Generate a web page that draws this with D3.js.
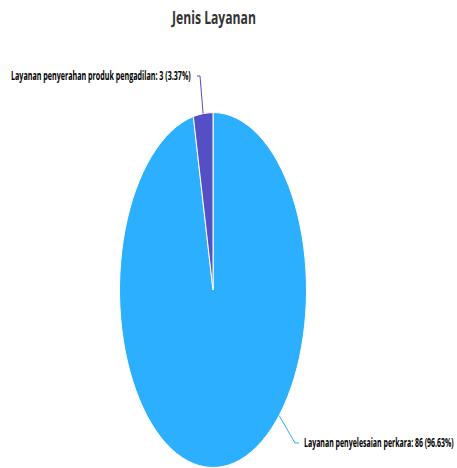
<!DOCTYPE html>
<html>
<head>
<meta charset="utf-8">
<script src="https://cdn.jsdelivr.net/npm/d3@7/dist/d3.min.js"></script>
<style>
  html, body { margin: 0; padding: 0; background: #fff; }
  svg { display: block; }
  text { font-family: "Open Sans", "Liberation Sans", sans-serif; }
</style>
</head>
<body>
<svg id="chart" width="457" height="468"></svg>
<script>
// ---- data ----
const title = "Jenis Layanan";
const categories = ["Layanan penyelesaian perkara", "Layanan penyerahan produk pengadilan"];
const values = [86, 3];
const colors = ["#2caffe", "#544fc5"];

// ---- layout ----
const cx = 213, cy = 290, rx = 93.5, ry = 177.5;
const R = 100;

const svg = d3.select("#chart");

const total = d3.sum(values);
const pie = d3.pie().sort(null).startAngle(0).endAngle(2 * Math.PI)(values);
const arc = d3.arc().innerRadius(0).outerRadius(R);

const g = svg.append("g")
  .attr("transform", `translate(${cx},${cy}) scale(${rx / R},${ry / R})`);

g.selectAll("path")
  .data(pie)
  .join("path")
  .attr("d", arc)
  .attr("fill", (d, i) => colors[i])
  .attr("stroke", "#ffffff")
  .attr("stroke-width", 1)
  .attr("vector-effect", "non-scaling-stroke");

// condensed text helper: scales text horizontally to a target width
function condensedText(str, x, y, width, size, weight, fill, anchor) {
  const t = svg.append("text")
    .attr("font-size", size)
    .attr("font-weight", weight)
    .attr("fill", fill)
    .attr("text-anchor", anchor)
    .text(str);
  const natural = t.node().getComputedTextLength();
  const sx = width / natural;
  t.attr("transform", `translate(${x},${y}) scale(${sx},1)`);
  return t;
}

// title
condensedText(title, 214, 24, 84, 17, 700, "#333333", "middle");

// data labels (layout for each label)
const labelLayout = [
  { anchorAngle: 135, bendX: 295, bendY: 443, endX: 299, textX: 304, textY: 447, len: 150 },
  { anchorAngle: null, bendX: 200, bendY: 76, endX: 197, textX: 11, textY: 80, len: 180 }
];

pie.forEach((d, i) => {
  const L = labelLayout[i];
  const midDeg = (d.startAngle + d.endAngle) / 2 * 180 / Math.PI;
  const aDeg = L.anchorAngle == null ? midDeg : L.anchorAngle;
  const a = aDeg * Math.PI / 180;
  const px = cx + rx * Math.sin(a);
  const py = cy - ry * Math.cos(a);
  svg.append("path")
    .attr("d", `M${px},${py}L${L.bendX},${L.bendY}L${L.endX},${L.bendY}`)
    .attr("fill", "none")
    .attr("stroke", colors[i])
    .attr("stroke-width", 1);
  const pct = (values[i] / total * 100).toFixed(2);
  condensedText(`${categories[i]}: ${values[i]} (${pct}%)`, L.textX, L.textY, L.len, 11.5, 700, "#000000", "start");
});
</script>
</body>
</html>
